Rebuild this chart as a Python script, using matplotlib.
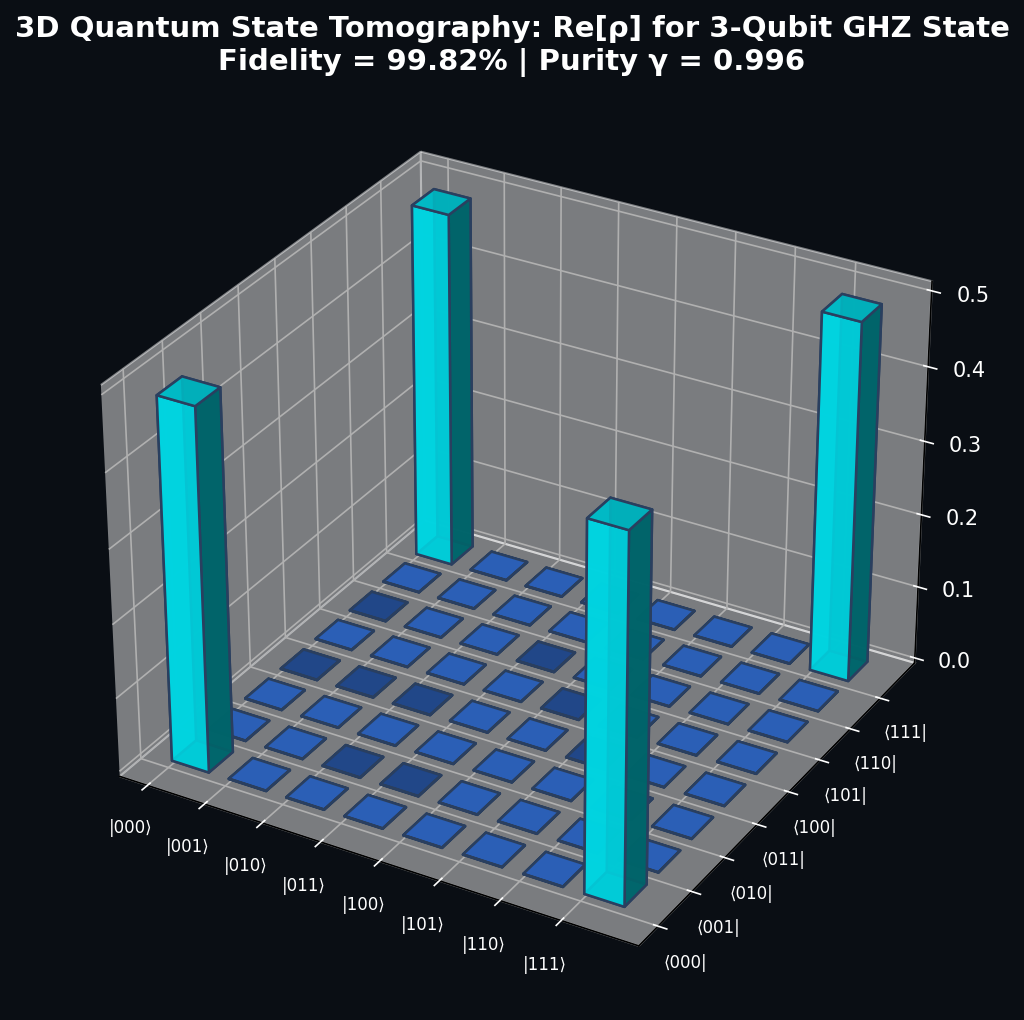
import numpy as np
import matplotlib
matplotlib.use('Agg')
import matplotlib.pyplot as plt

BG = '#0a0e14'

kets = ['|000⟩', '|001⟩', '|010⟩', '|011⟩', '|100⟩', '|101⟩', '|110⟩', '|111⟩']
bras = ['⟨000|', '⟨001|', '⟨010|', '⟨011|', '⟨100|', '⟨101|', '⟨110|', '⟨111|']

# Re[rho], rows = ket index, columns = bra index (negatives read as the darker cells)
rho = np.array([
    [0.487, 0.0005, 0.0005, -0.0005, 0.0005, -0.0005, 0.0005, 0.487],
    [0.0005, 0.0005, 0.0005, -0.0005, 0.0005, 0.0005, 0.0005, 0.0005],
    [0.0005, -0.0005, 0.0005, -0.0005, 0.0005, 0.0005, 0.0005, 0.0005],
    [0.0005, -0.0005, 0.0005, 0.0005, 0.0005, -0.0005, 0.0005, 0.0005],
    [0.0005, 0.0005, 0.0005, 0.0005, -0.0005, 0.0005, 0.0005, 0.0005],
    [0.0005, 0.0005, 0.0005, -0.0005, 0.0005, 0.0005, 0.0005, 0.0005],
    [0.0005, 0.0005, 0.0005, 0.0005, 0.0005, 0.0005, 0.0005, 0.0005],
    [0.487, 0.0005, 0.0005, 0.0005, 0.0005, 0.0005, 0.0005, 0.487],
])

fig = plt.figure(figsize=(1024 / 150, 1020 / 150), dpi=150, facecolor=BG)
ax = fig.add_axes([0.0375, 0.0155, 0.925, 0.906], projection='3d', facecolor=BG)

xpos, ypos = np.meshgrid(np.arange(8), np.arange(8), indexing='ij')
xpos = xpos.ravel()
ypos = ypos.ravel()
heights = rho.ravel()

colors = ['#00f0ff' if abs(h) > 0.1 else '#3a80f5' for h in heights]

# bars sit a bit off the tick positions
ax.bar3d(xpos + 0.02, ypos + 0.07, np.zeros_like(heights), 0.65, 0.65, heights,
         color=colors, edgecolor='#2a3f5f', linewidth=1.2, alpha=0.9, shade=True)

ax.set_xlim(-0.49, 8.25)
ax.set_ylim(-0.56, 8.18)
ax.set_zlim(-0.007, 0.5125)
ax.set_xticks(np.arange(8))
ax.set_yticks(np.arange(8))
ax.set_xticklabels(kets, fontsize=8, color='white')
ax.set_yticklabels(bras, fontsize=8, color='white')
ax.set_zticks([0, 0.1, 0.2, 0.3, 0.4, 0.5])
ax.tick_params(axis='z', colors='white', labelsize=10, pad=4)
ax.tick_params(axis='x', colors='white', pad=4)
ax.tick_params(axis='y', colors='white', pad=3.5)
ax.view_init(elev=30, azim=-60)

ax.xaxis.set_pane_color((1, 1, 1, 0.46))
ax.yaxis.set_pane_color((1, 1, 1, 0.46))
ax.zaxis.set_pane_color((1, 1, 1, 0.46))

fig.suptitle('3D Quantum State Tomography: Re[ρ] for 3-Qubit GHZ State\nFidelity = 99.82% | Purity γ = 0.996',
             color='white', fontsize=14, fontweight='bold', y=0.985)

plt.savefig('out.png', facecolor=BG)
